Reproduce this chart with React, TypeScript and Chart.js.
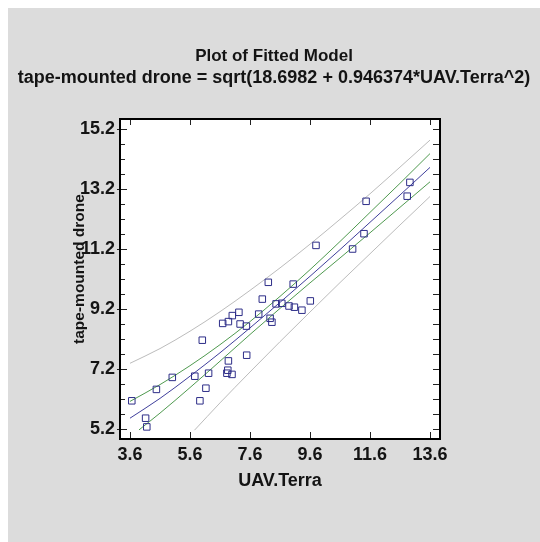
import React, { useEffect, useRef } from "react";
import { Chart, registerables } from "chart.js";

Chart.register(...registerables);

// ---- text ----
const titleText = "Plot of Fitted Model";
const subtitleText = "tape-mounted drone = sqrt(18.6982 + 0.946374*UAV.Terra^2)";
const xAxisLabel = "UAV.Terra";
const yAxisLabel = "tape-mounted drone";

// ---- axes ----
const xRange = [3.2667, 13.9333];
const yRange = [4.8667, 15.5333];
const xTicks = [3.6, 5.6, 7.6, 9.6, 11.6, 13.6];
const yTicks = [5.2, 7.2, 9.2, 11.2, 13.2, 15.2];
const yMinorTicks = [
  5.2, 5.7, 6.2, 6.7, 7.2, 7.7, 8.2, 8.7, 9.2, 9.7, 10.2, 10.7, 11.2, 11.7,
  12.2, 12.7, 13.2, 13.7, 14.2, 14.7, 15.2,
];

// ---- observations ----
const obsX = [
  3.66, 4.12, 4.16, 4.48, 5.01, 5.76, 5.93, 6.01, 6.13, 6.22, 6.69, 6.83, 6.86,
  6.88, 6.88, 7.0, 7.01, 7.23, 7.27, 7.48, 7.49, 7.89, 8.01, 8.21, 8.27, 8.33,
  8.47, 8.66, 8.9, 9.04, 9.08, 9.33, 9.61, 9.8, 11.02, 11.4, 11.47, 12.84, 12.93,
];
const obsY = [
  6.14, 5.56, 5.27, 6.52, 6.92, 6.96, 6.14, 8.16, 6.56, 7.06, 8.72, 7.06, 7.16,
  7.47, 8.78, 7.02, 8.98, 9.09, 8.7, 8.63, 7.66, 9.03, 9.53, 10.09, 8.89, 8.76,
  9.37, 9.39, 9.3, 10.03, 9.26, 9.16, 9.47, 11.32, 11.2, 11.71, 12.79, 12.96, 13.42,
];

// ---- fitted model and limits ----
const fitX = [3.6, 4.6, 5.6, 6.6, 7.6, 8.6, 9.6, 10.6, 11.6, 12.6, 13.6];
const fitY = [5.56, 6.22, 6.96, 7.74, 8.57, 9.42, 10.29, 11.18, 12.09, 13.0, 13.92];
const upperConfY = [6.12, 6.68, 7.31, 8.01, 8.78, 9.62, 10.51, 11.45, 12.42, 13.39, 14.38];
const lowerConfX = [3.9, 4.6, 5.6, 6.6, 7.6, 8.6, 9.6, 10.6, 11.6, 12.6, 13.6];
const lowerConfY = [5.17, 5.73, 6.58, 7.46, 8.35, 9.22, 10.07, 10.9, 11.74, 12.59, 13.44];
const upperPredY = [7.39, 7.88, 8.46, 9.11, 9.82, 10.57, 11.36, 12.19, 13.04, 13.93, 14.83];
const lowerPredX = [5.75, 6.6, 7.6, 8.6, 9.6, 10.6, 11.6, 12.6, 13.6];
const lowerPredY = [5.16, 6.07, 7.1, 8.11, 9.1, 10.08, 11.04, 12.0, 12.95];

const FONT = "'Liberation Sans', Arial, sans-serif";
const TEXT = "#141414";

const pts = (xs: number[], ys: number[]) => xs.map((x, i) => ({ x, y: ys[i] }));

const framePlugin = {
  id: "frame",
  beforeDraw(chart: any) {
    const { ctx, width, height, chartArea: a } = chart;
    ctx.save();
    ctx.fillStyle = "#dcdcdc";
    ctx.fillRect(0, 0, width, height);
    ctx.fillStyle = "#ffffff";
    ctx.fillRect(a.left, a.top, a.right - a.left, a.bottom - a.top);
    ctx.restore();
  },
  afterDraw(chart: any) {
    const { ctx, chartArea: a, scales } = chart;
    const xs = scales.x;
    const ys = scales.y;
    ctx.save();
    ctx.strokeStyle = "#222";
    ctx.lineWidth = 1;
    ctx.beginPath();
    for (const v of yMinorTicks) {
      const p = Math.round(ys.getPixelForValue(v)) + 0.5;
      const major = yTicks.some((t) => Math.abs(t - v) < 1e-6);
      ctx.moveTo(a.left - (major ? 3 : 0), p);
      ctx.lineTo(a.left + (major ? 7 : 5), p);
      ctx.moveTo(a.right, p);
      ctx.lineTo(a.right - 7, p);
    }
    for (const v of xTicks) {
      const p = Math.round(xs.getPixelForValue(v)) + 0.5;
      ctx.moveTo(p, a.top);
      ctx.lineTo(p, a.top + 6);
      ctx.moveTo(p, a.bottom);
      ctx.lineTo(p, a.bottom - 7);
    }
    ctx.stroke();
    ctx.strokeStyle = "#000";
    ctx.lineWidth = 2;
    ctx.strokeRect(a.left, a.top, a.right - a.left, a.bottom - a.top);

    // y-axis title (rotated), slightly above the plot's vertical centre
    ctx.translate(a.left - 40, (a.top + a.bottom) / 2 - 10);
    ctx.rotate(-Math.PI / 2);
    ctx.fillStyle = TEXT;
    ctx.font = `bold 15.5px ${FONT}`;
    ctx.textAlign = "center";
    ctx.textBaseline = "middle";
    ctx.fillText(yAxisLabel, 0, 0);
    ctx.restore();
  },
};

export default function App() {
  const ref = useRef<HTMLCanvasElement | null>(null);

  useEffect(() => {
    if (!ref.current) return;
    const lineDs = (label: string, data: any, color: string) => ({
      label,
      data,
      showLine: true,
      fill: false,
      borderColor: color,
      borderWidth: 1,
      pointRadius: 0,
      cubicInterpolationMode: "monotone" as const,
    });
    const chart = new Chart(ref.current, {
      type: "scatter",
      data: {
        datasets: [
          {
            label: "Observed",
            data: pts(obsX, obsY),
            showLine: false,
            pointStyle: "rect",
            pointRadius: 4.6,
            pointBorderWidth: 1,
            pointBorderColor: "#2d2d88",
            pointBackgroundColor: "rgba(0,0,0,0)",
          } as any,
          lineDs("Fitted", pts(fitX, fitY), "#3f3f9c"),
          lineDs("Upper confidence", pts(fitX, upperConfY), "#4f9a4f"),
          lineDs("Lower confidence", pts(lowerConfX, lowerConfY), "#4f9a4f"),
          lineDs("Upper prediction", pts(fitX, upperPredY), "#bcbcbc"),
          lineDs("Lower prediction", pts(lowerPredX, lowerPredY), "#bcbcbc"),
        ],
      },
      options: {
        responsive: false,
        animation: false,
        devicePixelRatio: 1,
        layout: { padding: 0 },
        plugins: {
          legend: { display: false },
          tooltip: { enabled: false },
          title: {
            display: true,
            text: titleText,
            color: TEXT,
            font: { family: FONT, size: 17, weight: "bold" },
            padding: { top: 37.8, bottom: 0 },
          },
          subtitle: {
            display: true,
            text: subtitleText,
            color: TEXT,
            font: { family: FONT, size: 18, weight: "bold" },
            padding: { top: 1.5, bottom: 29.7 },
          },
        },
        scales: {
          x: {
            type: "linear",
            position: "bottom",
            min: xRange[0],
            max: xRange[1],
            grid: { display: false, drawTicks: false, tickLength: 0 },
            border: { display: false },
            afterBuildTicks: (s: any) => {
              s.ticks = xTicks.map((v) => ({ value: v }));
            },
            afterFit: (s: any) => {
              s.height = 103;
            },
            ticks: {
              autoSkip: false,
              maxRotation: 0,
              padding: 5.2,
              color: TEXT,
              font: { family: FONT, size: 18, weight: "bold" },
              callback: (v: any) => Number(v).toFixed(1),
            },
            title: {
              display: true,
              text: xAxisLabel,
              color: TEXT,
              font: { family: FONT, size: 18, weight: "bold" },
              padding: { top: 0, bottom: 50.2 },
            },
          },
          y: {
            type: "linear",
            position: "left",
            min: yRange[0],
            max: yRange[1],
            grid: { display: false, drawTicks: false, tickLength: 0 },
            border: { display: false },
            afterBuildTicks: (s: any) => {
              s.ticks = yTicks.map((v) => ({ value: v }));
            },
            afterFit: (s: any) => {
              s.width = 112;
            },
            ticks: {
              autoSkip: false,
              padding: 5,
              color: TEXT,
              font: { family: FONT, size: 18, weight: "bold" },
              callback: (v: any) => Number(v).toFixed(1),
            },
            title: { display: false },
          },
          yRight: {
            type: "linear",
            position: "right",
            display: true,
            grid: { display: false, drawTicks: false },
            border: { display: false },
            ticks: { display: false },
            title: { display: false },
            afterFit: (s: any) => {
              s.width = 100;
            },
          },
        },
      } as any,
      plugins: [framePlugin],
    });
    return () => chart.destroy();
  }, []);

  return (
    <div style={{ position: "fixed", left: 8, top: 8, width: 532, height: 534 }}>
      <canvas ref={ref} width={532} height={534} style={{ display: "block" }} />
    </div>
  );
}
